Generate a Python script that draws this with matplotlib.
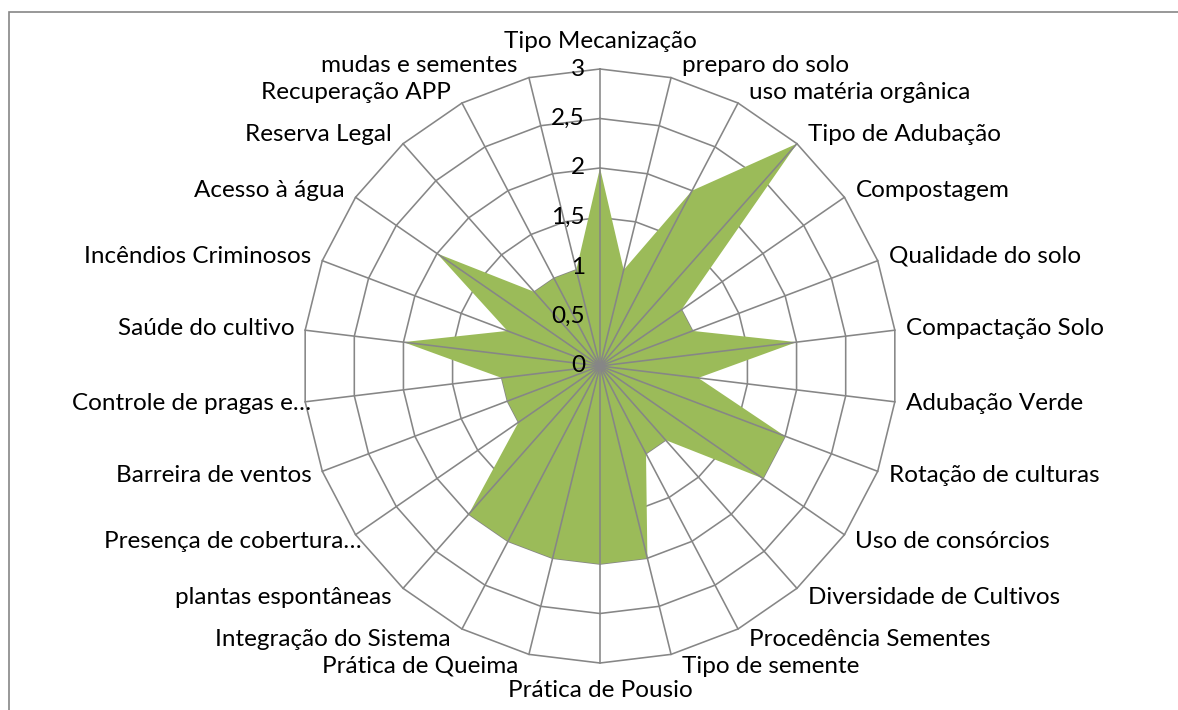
import numpy as np
import matplotlib
matplotlib.use("Agg")
import matplotlib.pyplot as plt
from matplotlib.patches import Rectangle

categories = [
    "Tipo Mecanização", "preparo do solo", "uso matéria orgânica",
    "Tipo de Adubação", "Compostagem", "Qualidade do solo",
    "Compactação Solo", "Adubação Verde", "Rotação de culturas",
    "Uso de consórcios", "Diversidade de Cultivos", "Procedência Sementes",
    "Tipo de semente", "Prática de Pousio", "Prática de Queima",
    "Integração do Sistema", "plantas espontâneas", "Presença de cobertura…",
    "Barreira de ventos", "Controle de pragas e…", "Saúde do cultivo",
    "Incêndios Criminosos", "Acesso à água", "Reserva Legal",
    "Recuperação APP", "mudas e sementes",
]
values = [2, 1, 2, 3, 1, 1, 2, 1, 2, 2, 1, 1, 2, 2, 2, 2, 2, 1, 1, 1, 2, 1, 2, 1, 1, 1]
ring_values = [0.5, 1, 1.5, 2, 2.5, 3]
tick_values = [0, 0.5, 1, 1.5, 2, 2.5, 3]
tick_labels = ["0", "0,5", "1", "1,5", "2", "2,5", "3"]

FONT = "Lato"
FS = 17.5
GRID = "#868686"
FILL = "#9BBB59"

W, H = 1178, 710
fig = plt.figure(figsize=(W / 100, H / 100), dpi=100)
ax = fig.add_axes([0, 0, 1, 1])
scale = 99.0  # pixels per unit
cx, cy = 600, 344  # centre (pixels from left, from bottom)
ax.set_xlim(-cx / scale, (W - cx) / scale)
ax.set_ylim(-cy / scale, (H - cy) / scale)
ax.set_aspect("equal")
ax.axis("off")

n = len(categories)
theta = np.arange(n) * 2 * np.pi / n
sx, cxs = np.sin(theta), np.cos(theta)

# rings (below fill)
for rv in ring_values:
    xs = np.append(rv * sx, rv * sx[0])
    ys = np.append(rv * cxs, rv * cxs[0])
    ax.plot(xs, ys, color=GRID, lw=1.15, zorder=1)

vals = np.array(values, dtype=float)
ax.fill(vals * sx, vals * cxs, color=FILL, lw=0, zorder=2)

# spokes (above fill)
rmax = max(ring_values)
for i in range(n):
    ax.plot([0, rmax * sx[i]], [0, rmax * cxs[i]], color=GRID, lw=1.15, zorder=3)

# category labels
for i, lab in enumerate(categories):
    s, c = sx[i], cxs[i]
    if abs(s) < 1e-6:
        ha = "center"
        dx = 0
        dy = 28 if c > 0 else -28
    else:
        ha = "left" if s > 0 else "right"
        dx = 11 if s > 0 else -11
        dy = 12 * c
        if lab.endswith("…") and s < 0:
            dx += 17  # Excel lets the ellipsis overflow past the label box
    ax.annotate(lab, xy=(rmax * s, rmax * c), xytext=(dx, dy),
                textcoords="offset pixels", ha=ha, va="center",
                fontsize=FS, family=FONT, color="black", zorder=5)

# value tick labels
for tv, tl in zip(tick_values, tick_labels):
    ax.annotate(tl, xy=(0, tv), xytext=(-15, 0), textcoords="offset pixels",
                ha="right", va="center", fontsize=FS, family=FONT,
                color="black", zorder=5)

# chart border
fig.patches.append(Rectangle((8.5 / W, -0.1), 1.2, (H - 12) / H + 0.1,
                             transform=fig.transFigure, fill=False,
                             edgecolor=GRID, lw=1.2))

fig.savefig("out.png", dpi=100)
